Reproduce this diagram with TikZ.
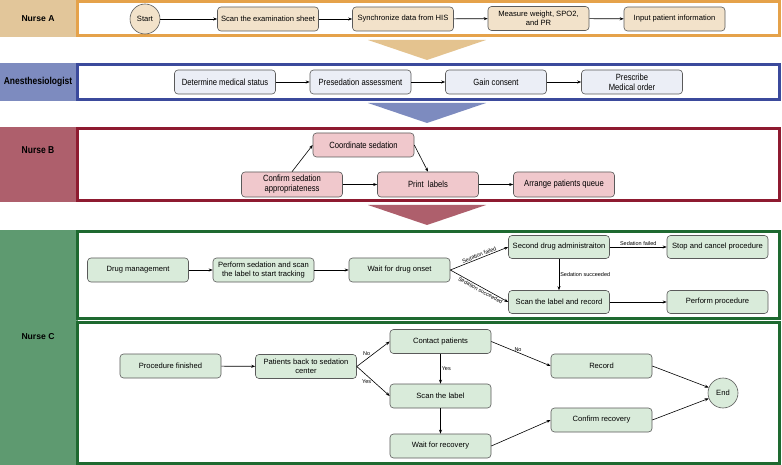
\documentclass[tikz,border=0pt]{standalone}
\usepackage{fontspec}
\setmainfont{Liberation Sans}
\newfontfamily\narrowfont[FakeStretch=0.85]{Liberation Sans}
\usetikzlibrary{arrows.meta}
\definecolor{tanband}{HTML}{E2C69A}
\definecolor{tanline}{HTML}{E5A24A}
\definecolor{tanfill}{HTML}{F2E2CA}
\definecolor{tanarrow}{HTML}{E4C38F}
\definecolor{blueband}{HTML}{7D8BBF}
\definecolor{blueline}{HTML}{3B4A9C}
\definecolor{bluefill}{HTML}{EBEEF6}
\definecolor{redband}{HTML}{AE5F6C}
\definecolor{redline}{HTML}{8E1A30}
\definecolor{redfill}{HTML}{F0C8CC}
\definecolor{greenband}{HTML}{5E9A70}
\definecolor{greenline}{HTML}{1E6930}
\definecolor{greenfill}{HTML}{D9EBDA}
\definecolor{nodeborder}{HTML}{5A5A5A}
\tikzset{
  proc/.style={draw=nodeborder, line width=0.6pt, rounded corners=3.5pt,
    minimum width=101pt, minimum height=24pt, inner sep=1pt, align=center,
    font=\fontsize{7.6}{8.8}\selectfont},
  nproc/.style={proc, font=\narrowfont\fontsize{9}{10}\selectfont},
  terminal/.style={circle, draw=nodeborder, line width=0.6pt, minimum size=30pt,
    inner sep=0pt, font=\fontsize{7.6}{8.8}\selectfont},
  arr/.style={-{Stealth[length=4pt,width=3pt]}, line width=0.6pt},
  elabel/.style={font=\fontsize{5.5}{6}\selectfont, inner sep=1pt},
  lanebox/.style={line width=2.2pt},
  lanelabel/.style={font=\bfseries\fontsize{8.6}{10}\selectfont},
  nlanelabel/.style={font=\narrowfont\bfseries\fontsize{10}{11}\selectfont},
}
\begin{document}
\begin{tikzpicture}[x=1pt,y=-1pt]
\useasboundingbox (0,0) rectangle (782,465);
\fill[white] (0,0) rectangle (782,465);
% ---------------- lanes ----------------
\fill[tanband] (0,0) rectangle (78,37);
\draw[lanebox, draw=tanline] (77.5,1.5) rectangle (779.5,35.5);
\node[lanelabel] (laneA) at (38,18.5) {Nurse A};
\fill[tanarrow] (368,40) -- (486,40) -- (427,60) -- cycle;

\fill[blueband] (0,63) rectangle (78,101);
\draw[lanebox, draw=blueline] (77.5,64.5) rectangle (779.5,99.5);
\node[nlanelabel] (laneAn) at (38,82) {Anesthesiologist};
\fill[blueband] (368,103) -- (486,103) -- (427,123) -- cycle;

\fill[redband] (0,127) rectangle (78,202);
\draw[lanebox, draw=redline] (77.5,128.5) rectangle (779.5,200.5);
\node[nlanelabel] (laneB) at (38,150) {Nurse B};
\fill[redband] (368,205) -- (486,205) -- (427,225) -- cycle;

\fill[greenband] (0,230) rectangle (78,465);
\draw[lanebox, draw=greenline] (77.5,231.5) rectangle (779.5,318.5);
\draw[lanebox, draw=greenline] (77.5,322.5) rectangle (779.5,463.5);
\node[lanelabel] (laneC) at (38,337) {Nurse C};

% ---------------- Nurse A ----------------
\node[terminal, fill=tanfill] (start) at (145,19) {Start};
\node[proc, fill=tanfill] (scan) at (268,19) {Scan the examination sheet};
\node[proc, fill=tanfill] (sync) at (403,19) {Synchronize data from HIS};
\node[proc, fill=tanfill] (measure) at (538.5,18.5) {Measure weight, SPO2,\\and PR};
\node[proc, fill=tanfill] (input) at (674.5,19) {Input patient information};
\draw[arr] (start) -- (scan);
\draw[arr] (scan) -- (sync);
\draw[arr] (sync) -- (measure);
\draw[arr] (measure) -- (input);

% ---------------- Anesthesiologist ----------------
\node[nproc, fill=bluefill] (status) at (225,82) {Determine medical status};
\node[nproc, fill=bluefill] (presed) at (360.5,82) {Presedation assessment};
\node[nproc, fill=bluefill] (consent) at (496,82) {Gain consent};
\node[nproc, fill=bluefill] (order) at (632,82) {Prescribe\\Medical order};
\draw[arr] (status) -- (presed);
\draw[arr] (presed) -- (consent);
\draw[arr] (consent) -- (order);

% ---------------- Nurse B ----------------
\node[nproc, fill=redfill] (coord) at (363.5,145) {Coordinate sedation};
\node[nproc, fill=redfill, minimum height=25pt] (confirm) at (292,184.5) {Confirm sedation\\appropriateness};
\node[nproc, fill=redfill, minimum height=25pt] (print) at (428,184.5) {Print~ labels};
\node[nproc, fill=redfill, minimum height=25pt] (queue) at (564,184.5) {Arrange patients queue};
\draw[arr] (confirm.north) -- (coord.west);
\draw[arr] (coord.east) -- (print.north);
\draw[arr] (confirm) -- (print);
\draw[arr] (print) -- (queue);

% ---------------- Nurse C, part 1 ----------------
\node[proc, fill=greenfill] (drug) at (138,270) {Drug management};
\node[proc, fill=greenfill] (perform) at (263.5,270) {Perform sedation and scan\\the label to start tracking};
\node[proc, fill=greenfill] (wait) at (399.5,270) {Wait for drug onset};
\node[proc, fill=greenfill, minimum height=23pt] (second) at (559,247) {Second drug administraiton};
\node[proc, fill=greenfill, minimum height=23pt] (stop) at (717.5,247) {Stop and cancel procedure};
\node[proc, fill=greenfill, minimum height=23pt] (scanrec) at (559,302) {Scan the label and record};
\node[proc, fill=greenfill, minimum height=23pt] (proc) at (717.5,302) {Perform procedure};
\draw[arr] (drug) -- (perform);
\draw[arr] (perform) -- (wait);
\draw[arr] (wait.east) -- (second.west) node[elabel, sloped, above, pos=0.52] {Sedation failed};
\draw[arr] (wait.east) -- (scanrec.west) node[elabel, sloped, below, pos=0.55] {Sedation succeeded};
\draw[arr] (second) -- (stop) node[elabel, above, midway] {Sedation failed};
\draw[arr] (second) -- (scanrec) node[elabel, right, midway] {Sedation succeeded};
\draw[arr] (scanrec) -- (proc);

% ---------------- Nurse C, part 2 ----------------
\node[proc, fill=greenfill] (finished) at (170.5,366) {Procedure finished};
\node[proc, fill=greenfill] (back) at (306,366.5) {Patients back to sedation\\center};
\node[proc, fill=greenfill] (contact) at (440.5,341.5) {Contact patients};
\node[proc, fill=greenfill] (scanlabel) at (440.5,396) {Scan the label};
\node[proc, fill=greenfill] (waitrec) at (440.5,446) {Wait for recovery};
\node[proc, fill=greenfill] (record) at (601.5,366) {Record};
\node[proc, fill=greenfill] (confrec) at (601.5,420) {Confirm recovery};
\node[terminal, fill=greenfill] (end) at (723,393) {End};
\draw[arr] (finished) -- (back);
\draw[arr] (back.east) -- (contact.west) node[elabel, above, pos=0.3, yshift=2pt] {No};
\draw[arr] (back.east) -- (scanlabel.west) node[elabel, below, pos=0.3, yshift=-3pt] {Yes};
\draw[arr] (contact) -- (scanlabel) node[elabel, right, midway] {Yes};
\draw[arr] (contact.east) -- (record.west) node[elabel, above, pos=0.45] {No};
\draw[arr] (scanlabel) -- (waitrec);
\draw[arr] (waitrec.east) -- (confrec.west);
\draw[arr] (record.east) -- (end);
\draw[arr] (confrec.east) -- (end);
\end{tikzpicture}
\end{document}
